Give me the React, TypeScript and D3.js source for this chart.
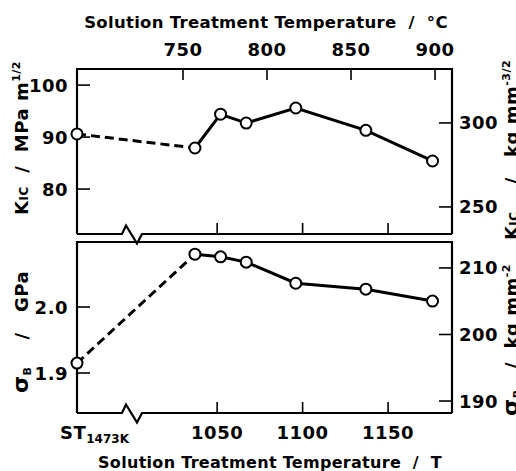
import React from 'react';
import * as d3 from 'd3';

// ---- data ----
const stLabel = 'ST';
const stSub = '1473K';
const tempsK = [1037, 1052, 1067, 1096, 1137, 1176];
const kicST = 90.6;
const kicValues = [87.9, 94.4, 92.7, 95.6, 91.3, 85.4];
const sigmaST = 1.915;
const sigmaValues = [2.08, 2.076, 2.068, 2.036, 2.027, 2.009];
const ticksK = [1050, 1100, 1150];
const ticksC = [750, 800, 850, 900];
const ticksKic = [80, 90, 100];
const ticksKicKg = [250, 300];
const ticksSigma = [1.9, 2.0];
const ticksSigmaKg = [190, 200, 210];

const W = 516;
const H = 471;
const X0 = 77;
const X1 = 452;
const T0 = 69;
const T1 = 234;
const B0 = 242;
const B1 = 413;

const FONT = 'DejaVu Sans';
const sp = (s: string) => s.replace(/ /g, '\u00a0');

export default function App() {
  const xK = d3.scaleLinear().domain([968, 1187.4]).range([X0, X1]);
  const xC = d3.scaleLinear().domain([686.9, 910.1]).range([X0, X1]);
  const yKic = d3.scaleLinear().domain([71.35, 103.1]).range([T1, T0]);
  const yKicKg = d3.scaleLinear().domain([233.9, 332.1]).range([T1, T0]);
  const ySig = d3.scaleLinear().domain([1.8394, 2.0985]).range([B1, B0]);
  const ySigKg = d3.scaleLinear().domain([188.2, 213.9]).range([B1, B0]);

  const line = d3.line<[number, number]>();

  const topPts: [number, number][] = tempsK.map((t, i) => [xK(t), yKic(kicValues[i])]);
  const botPts: [number, number][] = tempsK.map((t, i) => [xK(t), ySig(sigmaValues[i])]);
  const topST: [number, number] = [X0, yKic(kicST)];
  const botST: [number, number] = [X0, ySig(sigmaST)];

  const zig = (y: number): [number, number][] => [
    [X0, y],
    [122, y],
    [126, y - 8.5],
    [137, y + 9.5],
    [142, y],
    [X1, y],
  ];

  const tickLen = 13;
  const labelStyle: React.CSSProperties = {
    fontFamily: FONT,
    fontWeight: 'bold',
    fontSize: 18,
    letterSpacing: 0.5,
  };

  return (
    <svg
      width={W}
      height={H}
      style={{ position: 'absolute', left: 0, top: 0, background: '#fff' }}
    >
      <rect width={W} height={H} fill="#fff" />
      {/* frames */}
      <g fill="none" stroke="#000" strokeWidth={2.2}>
        <path d={line([[X0, T1], [X0, T0], [X1, T0], [X1, T1]]) || ''} />
        <path d={line(zig(T1)) || ''} />
        <path d={line([[X0, B1], [X0, B0], [X1, B0], [X1, B1]]) || ''} />
        <path d={line(zig(B1)) || ''} />
      </g>
      {/* ticks */}
      <g stroke="#000" strokeWidth={1.6}>
        {ticksC.map((t) => (
          <line key={'c' + t} x1={xC(t)} x2={xC(t)} y1={T0} y2={T0 + 11} />
        ))}
        {ticksK.map((t) => (
          <line key={'kt' + t} x1={xK(t)} x2={xK(t)} y1={T1} y2={T1 - 11} />
        ))}
        {ticksK.map((t) => (
          <line key={'kb' + t} x1={xK(t)} x2={xK(t)} y1={B1} y2={B1 - 11} />
        ))}
        {ticksKic.map((t) => (
          <line key={'l' + t} x1={X0} x2={X0 + tickLen} y1={yKic(t)} y2={yKic(t)} />
        ))}
        {ticksKicKg.map((t) => (
          <line key={'r' + t} x1={X1} x2={X1 - tickLen} y1={yKicKg(t)} y2={yKicKg(t)} />
        ))}
        {ticksSigma.map((t) => (
          <line key={'ls' + t} x1={X0} x2={X0 + tickLen} y1={ySig(t)} y2={ySig(t)} />
        ))}
        {ticksSigmaKg.map((t) => (
          <line key={'rs' + t} x1={X1} x2={X1 - tickLen} y1={ySigKg(t)} y2={ySigKg(t)} />
        ))}
      </g>
      {/* tick labels */}
      <g style={labelStyle} fill="#000">
        {ticksC.map((t) => (
          <text key={'tc' + t} x={xC(t)} y={56} textAnchor="middle">
            {t}
          </text>
        ))}
        {ticksK.map((t) => (
          <text key={'tk' + t} x={xK(t)} y={439} textAnchor="middle">
            {t}
          </text>
        ))}
        {ticksKic.map((t) => (
          <text key={'tl' + t} x={68} y={yKic(t) + 6.5} textAnchor="end">
            {t}
          </text>
        ))}
        {ticksKicKg.map((t) => (
          <text key={'tr' + t} x={459} y={yKicKg(t) + 6.5} textAnchor="start">
            {t}
          </text>
        ))}
        {ticksSigma.map((t) => (
          <text key={'tls' + t} x={68} y={ySig(t) + 6.5} textAnchor="end">
            {t.toFixed(1)}
          </text>
        ))}
        {ticksSigmaKg.map((t) => (
          <text key={'trs' + t} x={459} y={ySigKg(t) + 6.5} textAnchor="start">
            {t}
          </text>
        ))}
        <text x={60} y={439}>
          {stLabel}
          <tspan fontSize={12} dy={4} letterSpacing={0}>
            {stSub}
          </tspan>
        </text>
      </g>
      {/* axis titles */}
      <g style={{ ...labelStyle, fontSize: 16.5, letterSpacing: 0.3 }} fill="#000">
        <text x={266} y={28} textAnchor="middle">
          {sp('Solution Treatment Temperature  /  °C')}
        </text>
        <text x={270} y={468} textAnchor="middle" fontSize={16}>
          {sp('Solution Treatment Temperature  /  T')}
        </text>
      </g>
      <g style={{ ...labelStyle, fontSize: 18 }} fill="#000">
        <text transform={`translate(28,138) rotate(-90)`} textAnchor="middle">
          K<tspan fontSize={12}>IC</tspan>
          {sp('  /  MPa m')}
          <tspan fontSize={11} dy={-8}>
            1/2
          </tspan>
        </text>
        <text transform={`translate(28,332) rotate(-90)`} textAnchor="middle">
          <tspan fontSize={22}>σ</tspan>
          <tspan fontSize={11} dy={3}>B</tspan>
          <tspan dy={-3}>{sp('    /   GPa')}</tspan>
        </text>
        <text transform={`translate(518,150) rotate(-90)`} textAnchor="middle">
          K<tspan fontSize={12}>IC</tspan>
          {sp('    /   kg mm')}
          <tspan fontSize={11} dy={-8}>
            -3/2
          </tspan>
        </text>
        <text transform={`translate(518,340) rotate(-90)`} textAnchor="middle">
          <tspan fontSize={22}>σ</tspan>
          <tspan fontSize={11} dy={3}>B</tspan>
          <tspan dy={-3}>{sp('   /  kg mm')}</tspan>
          <tspan fontSize={11} dy={-8}>
            -2
          </tspan>
        </text>
      </g>
      {/* data lines */}
      <g fill="none" stroke="#000" strokeWidth={3}>
        <path d={line([topST, topPts[0]]) || ''} strokeDasharray="9,5" />
        <path d={line(topPts) || ''} />
        <path d={line([botST, botPts[0]]) || ''} strokeDasharray="9,5" />
        <path d={line(botPts) || ''} />
      </g>
      <g fill="#fff" stroke="#000" strokeWidth={2}>
        {[topST, ...topPts, botST, ...botPts].map((p, i) => (
          <circle key={i} cx={p[0]} cy={p[1]} r={5.5} />
        ))}
      </g>
    </svg>
  );
}
